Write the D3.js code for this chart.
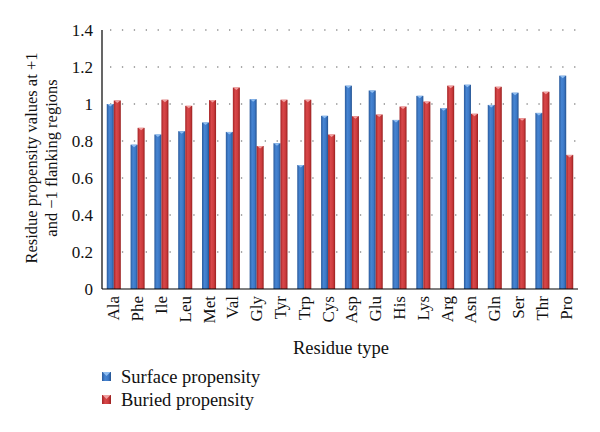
<!DOCTYPE html>
<html><head><meta charset="utf-8">
<script src="https://cdn.jsdelivr.net/npm/d3@7"></script>
<style>body{margin:0;background:#fff;} text{font-family:"Liberation Serif","Times New Roman",serif;fill:#111;}</style>
</head><body><svg id="c" width="600" height="432"></svg>
<script>
const categories = ["Ala","Phe","Ile","Leu","Met","Val","Gly","Tyr","Trp","Cys","Asp","Glu","His","Lys","Arg","Asn","Gln","Ser","Thr","Pro"];
const surface = [1.00,0.78,0.835,0.853,0.90,0.849,1.026,0.788,0.67,0.936,1.099,1.073,0.914,1.044,0.977,1.104,0.995,1.061,0.952,1.153];
const buried  = [1.019,0.871,1.023,0.99,1.021,1.089,0.773,1.023,1.023,0.835,0.934,0.943,0.986,1.013,1.099,0.947,1.093,0.923,1.066,0.725];
const seriesNames = ["Surface propensity","Buried propensity"];
const yTicks = [0,0.2,0.4,0.6,0.8,1,1.2,1.4];

const svg = d3.select("#c");
const m = {l:102, r:578, t:30, b:289};
const x = d3.scaleBand().domain(categories).range([m.l,m.r]).paddingInner(0.41).paddingOuter(0.2);
const xs = d3.scaleBand().domain([0,1]).range([0,x.bandwidth()]);
const y = d3.scaleLinear().domain([0,1.4]).range([m.b,m.t]);

const defs = svg.append("defs");
function grad(id, stops){
  const g = defs.append("linearGradient").attr("id",id).attr("x1","0").attr("x2","1").attr("y1","0").attr("y2","0");
  stops.forEach(([o,c])=>g.append("stop").attr("offset",o).attr("stop-color",c));
}
grad("gb",[[0,"#2a5a9c"],[0.35,"#4685d3"],[0.7,"#3c78c6"],[1,"#24528f"]]);
grad("gr",[[0,"#a52325"],[0.35,"#d8484a"],[0.7,"#cc3b3d"],[1,"#98201f"]]);
const fills = ["url(#gb)","url(#gr)"];
const caps = ["#8fbdf0","#f0a0a0"];

// gridlines
svg.append("g").selectAll("line").data(yTicks.filter(d=>d>0)).join("line")
  .attr("x1",m.l+8).attr("x2",m.r).attr("y1",d=>y(d)).attr("y2",d=>y(d))
  .attr("stroke","#555").attr("stroke-width",1.2).attr("stroke-dasharray","1.3,10.6");

const data = categories.map((c,i)=>({c, v:[surface[i],buried[i]]}));
const g = svg.append("g");
data.forEach(d=>{
  d.v.forEach((v,k)=>{
    const bx = x(d.c)+xs(k), bw = xs.bandwidth();
    g.append("rect").attr("x",bx).attr("y",y(v)).attr("width",bw).attr("height",y(0)-y(v)).attr("fill",fills[k]);
    g.append("path").attr("d",`M${bx+0.5},${y(v)}L${bx+bw-0.5},${y(v)}L${bx+bw/2},${y(v)+2.5}Z`).attr("fill",caps[k]);
  });
});

// axes
svg.append("line").attr("x1",m.l).attr("x2",m.l).attr("y1",m.t).attr("y2",m.b).attr("stroke","#000").attr("stroke-width",1.2);
svg.append("line").attr("x1",m.l).attr("x2",m.r).attr("y1",m.b).attr("y2",m.b).attr("stroke","#000").attr("stroke-width",1.2);

svg.append("g").selectAll("text").data(yTicks).join("text")
  .attr("x",93).attr("y",d=>y(d)).attr("dy","0.35em").attr("text-anchor","end").attr("font-size",17)
  .text(d=>d3.format("")(d));

svg.append("g").selectAll("text").data(categories).join("text")
  .attr("transform",d=>`translate(${x(d)+x.bandwidth()/2+5.5},296) rotate(-90)`)
  .attr("text-anchor","end").attr("font-size",17).text(d=>d);

svg.append("text").attr("x",341).attr("y",354).attr("text-anchor","middle").attr("font-size",18.5).text("Residue type");

svg.append("text").attr("transform","translate(37,158) rotate(-90)").attr("text-anchor","middle").attr("font-size",16.5).text("Residue propensity values at +1");
svg.append("text").attr("transform","translate(57,158) rotate(-90)").attr("text-anchor","middle").attr("font-size",16.5).text("and \u22121 flanking regions");

// legend
const lg = svg.append("g");
seriesNames.forEach((n,k)=>{
  const yy = 377 + k*23;
  lg.append("rect").attr("x",102).attr("y",yy-5).attr("width",9).attr("height",9).attr("fill",fills[k]);
  lg.append("path").attr("d",`M102.5,${yy-5}L110.5,${yy-5}L106.5,${yy-1}Z`).attr("fill",caps[k]);
  lg.append("text").attr("x",121).attr("y",yy).attr("dy","0.35em").attr("font-size",18.5).text(n);
});
</script></body></html>
